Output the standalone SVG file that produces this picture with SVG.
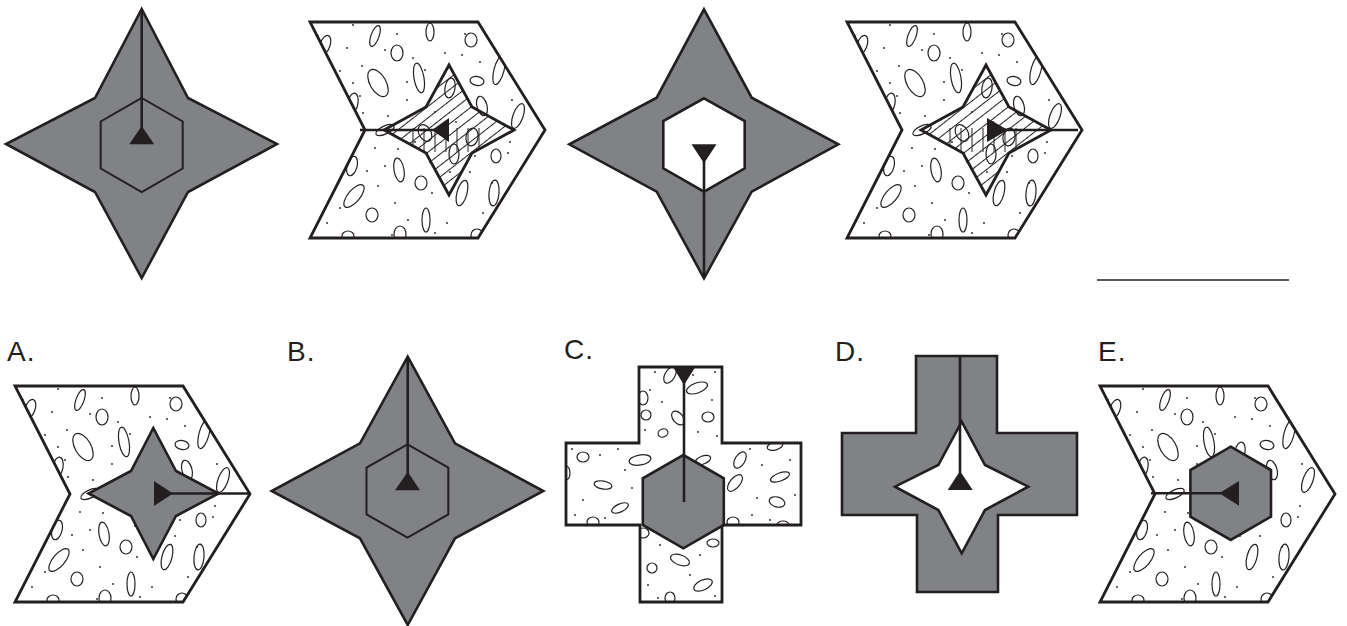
<svg xmlns="http://www.w3.org/2000/svg" xmlns:xlink="http://www.w3.org/1999/xlink" width="1347" height="626" viewBox="0 0 1347 626">
<style>
.o{fill:none;stroke:#231f20;stroke-width:2.8;stroke-linejoin:miter}
.g{fill:#808285;stroke:#231f20;stroke-width:2.6}
.w{fill:#fff;stroke:#231f20;stroke-width:2.6}
.thin{fill:none;stroke:#231f20;stroke-width:2}
.stem{stroke:#231f20;stroke-width:2.6;fill:none}
.tri{fill:#231f20;stroke:none}
.tex ellipse{fill:none;stroke:#231f20;stroke-width:1.2}
.tex circle{fill:#231f20;stroke:none}
.lbl{font-family:"Liberation Sans",Arial,sans-serif;font-size:28px;fill:#231f20;letter-spacing:1px}
</style>
<defs>
<clipPath id="chevClip"><polygon points="0,0 168,0 235,108 168,216 0,216 55,108"/></clipPath>
<clipPath id="starClip"><polygon points="0,-65 23,-23 65,0 23,23 0,65 -23,23 -65,0 -23,-23"/></clipPath>
<clipPath id="crossClip"><polygon points="639,367 722,367 722,443 801,443 801,525 722,525 722,602 640,602 640,525 566,525 566,443 639,443"/></clipPath>
<pattern id="diag" patternUnits="userSpaceOnUse" width="9" height="9" patternTransform="rotate(-38)">
<line x1="0" y1="4.5" x2="9" y2="4.5" stroke="#231f20" stroke-width="1"/>
</pattern>
<pattern id="vert" patternUnits="userSpaceOnUse" width="11" height="10" x="3">
<line x1="5" y1="0" x2="5" y2="10" stroke="#231f20" stroke-width="1"/>
</pattern>
<g id="chevTex" class="tex">
<ellipse cx="65" cy="14" rx="4" ry="11" transform="rotate(20 65 14)"/>
<ellipse cx="120" cy="10" rx="4" ry="9"/>
<ellipse cx="161" cy="18" rx="6" ry="7"/>
<ellipse cx="15" cy="23" rx="5" ry="10" transform="rotate(20 15 23)"/>
<ellipse cx="87" cy="31" rx="6" ry="8"/>
<ellipse cx="68" cy="61" rx="8" ry="15" transform="rotate(-30 68 61)"/>
<ellipse cx="109" cy="56" rx="5" ry="15" transform="rotate(-10 109 56)"/>
<ellipse cx="167" cy="59" rx="7" ry="4.5" transform="rotate(10 167 59)"/>
<ellipse cx="189" cy="48" rx="5" ry="15" transform="rotate(15 189 48)"/>
<ellipse cx="43" cy="81" rx="5" ry="10" transform="rotate(10 43 81)"/>
<ellipse cx="172" cy="84" rx="5" ry="10" transform="rotate(-15 172 84)"/>
<ellipse cx="208" cy="94" rx="5" ry="13" transform="rotate(20 208 94)"/>
<ellipse cx="75" cy="108" rx="10" ry="4" transform="rotate(-25 75 108)"/>
<ellipse cx="186" cy="134" rx="5" ry="7"/>
<ellipse cx="42" cy="144" rx="5" ry="10" transform="rotate(15 42 144)"/>
<ellipse cx="89" cy="148" rx="5" ry="12" transform="rotate(-10 89 148)"/>
<ellipse cx="111" cy="161" rx="6" ry="7"/>
<ellipse cx="152" cy="171" rx="5" ry="13" transform="rotate(15 152 171)"/>
<ellipse cx="44" cy="174" rx="6" ry="14" transform="rotate(40 44 174)"/>
<ellipse cx="184" cy="171" rx="5" ry="13" transform="rotate(5 184 171)"/>
<ellipse cx="62" cy="193" rx="6" ry="7"/>
<ellipse cx="116" cy="198" rx="4" ry="12"/>
<ellipse cx="90" cy="212" rx="6" ry="8"/>
<ellipse cx="38" cy="214" rx="6" ry="5"/>
<ellipse cx="167" cy="213" rx="6" ry="6"/>
<ellipse cx="115" cy="111" rx="6" ry="9" transform="rotate(-30 115 111)"/>
<ellipse cx="162" cy="115" rx="6" ry="9" transform="rotate(10 162 115)"/>
<ellipse cx="144" cy="132" rx="5" ry="10"/>
<ellipse cx="140" cy="66" rx="5" ry="10" transform="rotate(10 140 66)"/>
<circle cx="43" cy="3" r="0.9"/><circle cx="87" cy="12" r="0.9"/><circle cx="155" cy="12" r="0.9"/>
<circle cx="8" cy="14" r="0.9"/><circle cx="37" cy="26" r="0.9"/><circle cx="75" cy="28" r="0.9"/>
<circle cx="135" cy="31" r="0.9"/><circle cx="152" cy="33" r="0.9"/><circle cx="52" cy="44" r="0.9"/>
<circle cx="103" cy="36" r="0.9"/><circle cx="170" cy="40" r="0.9"/><circle cx="30" cy="49" r="0.9"/>
<circle cx="115" cy="48" r="0.9"/><circle cx="43" cy="61" r="0.9"/><circle cx="97" cy="60" r="0.9"/>
<circle cx="50" cy="74" r="0.9"/><circle cx="97" cy="78" r="0.9"/><circle cx="202" cy="78" r="0.9"/>
<circle cx="53" cy="91" r="0.9"/><circle cx="78" cy="94" r="0.9"/><circle cx="65" cy="126" r="0.9"/>
<circle cx="88" cy="127" r="0.9"/><circle cx="165" cy="134" r="0.9"/><circle cx="198" cy="131" r="0.9"/>
<circle cx="75" cy="144" r="0.9"/><circle cx="57" cy="149" r="0.9"/><circle cx="182" cy="161" r="0.9"/>
<circle cx="68" cy="164" r="0.9"/><circle cx="85" cy="181" r="0.9"/><circle cx="122" cy="171" r="0.9"/>
<circle cx="30" cy="186" r="0.9"/><circle cx="173" cy="191" r="0.9"/><circle cx="98" cy="198" r="0.9"/>
<circle cx="137" cy="201" r="0.9"/><circle cx="17" cy="201" r="0.9"/><circle cx="82" cy="213" r="0.9"/>
<circle cx="125" cy="211" r="0.9"/><circle cx="125" cy="90" r="0.9"/><circle cx="146" cy="100" r="0.9"/>
<circle cx="200" cy="120" r="0.9"/><circle cx="120" cy="140" r="0.9"/><circle cx="140" cy="150" r="0.9"/>
<circle cx="160" cy="150" r="0.9"/><circle cx="105" cy="120" r="0.9"/>
</g>
<g id="hatchStar">
<polygon points="0,-65 23,-23 65,0 23,23 0,65 -23,23 -65,0 -23,-23" fill="url(#diag)"/>
<g clip-path="url(#starClip)"><rect x="-45" y="-2" width="80" height="24" fill="url(#vert)"/></g>
<polygon class="o" points="0,-65 23,-23 65,0 23,23 0,65 -23,23 -65,0 -23,-23"/>
</g>
</defs>

<g id="q1">
<polygon class="g" points="141.7,9 188,98 277,144 188,192 141.7,278 95,192 6,144 95,98"/>
<polygon class="thin" points="141.7,98 182.7,121.5 182.7,168.5 141.7,192 100.7,168.5 100.7,121.5"/>
<line class="stem" x1="141.7" y1="9" x2="141.7" y2="128"/>
<polygon class="tri" points="141.7,126 154.2,144.3 129.2,144.3"/>
</g>

<g id="q2">
<g transform="translate(310,22)">
<g clip-path="url(#chevClip)"><use xlink:href="#chevTex"/></g>
<polygon class="o" points="0,0 168,0 235,108 168,216 0,216 55,108"/>
</g>
<use xlink:href="#hatchStar" transform="translate(449,130)"/>
<line class="stem" x1="360" y1="130" x2="434" y2="130"/>
<polygon class="tri" points="432,130 449,118 449,142"/>
</g>

<g id="q3">
<polygon class="g" points="704,9.3 751.7,97.7 838.3,144.3 751.7,191.7 704,278.3 656.7,191.7 569.3,144.3 656.7,97.7"/>
<polygon class="w" points="704,98.3 744.7,121 744.7,168.3 704,191.7 663.3,168.3 663.3,121"/>
<line class="stem" x1="704" y1="161" x2="704" y2="278"/>
<polygon class="tri" points="691.5,144.3 716.5,144.3 704,163.3"/>
</g>

<g id="q4">
<g transform="translate(847,22)">
<g clip-path="url(#chevClip)"><use xlink:href="#chevTex"/></g>
<polygon class="o" points="0,0 168,0 235,108 168,216 0,216 55,108"/>
</g>
<use xlink:href="#hatchStar" transform="translate(986,130)"/>
<line class="stem" x1="1006" y1="130" x2="1078" y2="130"/>
<polygon class="tri" points="987,118 987,142 1008,130"/>
</g>

<line id="answer" x1="1097" y1="280" x2="1289" y2="280" stroke="#231f20" stroke-width="1.3"/>

<g id="optA">
<text class="lbl" x="7" y="361">A.</text>
<g transform="translate(15,386)">
<g clip-path="url(#chevClip)"><use xlink:href="#chevTex"/></g>
<polygon class="o" points="0,0 168,0 235,108 168,216 0,216 55,108"/>
</g>
<polygon class="g" points="153.3,428 176,471 218.5,493.5 176,516 153.3,559 131,516 88.5,493.5 131,471"/>
<line class="stem" x1="171" y1="493.5" x2="250" y2="493.5"/>
<polygon class="tri" points="154,481 154,506 173,493.5"/>
</g>

<g id="optB">
<text class="lbl" x="287" y="361">B.</text>
<polygon class="g" points="407.7,356.7 455,443.3 543.3,491 455,538.3 407.7,625 360,538.3 271.7,491 360,443.3"/>
<polygon class="thin" points="407.5,444.3 448.3,467.7 448.3,514.3 407.5,537.7 366.5,514.3 366.5,467.7"/>
<line class="stem" x1="407.7" y1="357" x2="407.7" y2="474"/>
<polygon class="tri" points="407.7,471.7 420,490.3 395,490.3"/>
</g>

<g id="optC">
<text class="lbl" x="564" y="359">C.</text>
<polygon fill="#fff" points="639,367 722,367 722,443 801,443 801,525 722,525 722,602 640,602 640,525 566,525 566,443 639,443"/>
<g class="tex" clip-path="url(#crossClip)">
<ellipse cx="670" cy="375" rx="5" ry="9" transform="rotate(30 670 375)"/>
<ellipse cx="697" cy="388" rx="11" ry="5" transform="rotate(-20 697 388)"/>
<ellipse cx="643" cy="398" rx="5" ry="7"/>
<ellipse cx="646" cy="415" rx="5" ry="5"/>
<ellipse cx="678" cy="418" rx="5" ry="8" transform="rotate(-40 678 418)"/>
<ellipse cx="708" cy="417" rx="6" ry="5"/>
<ellipse cx="663" cy="433" rx="5" ry="4" transform="rotate(-20 663 433)"/>
<ellipse cx="640" cy="460" rx="11" ry="5" transform="rotate(-10 640 460)"/>
<ellipse cx="703" cy="460" rx="8" ry="4" transform="rotate(-20 703 460)"/>
<ellipse cx="775" cy="446" rx="8" ry="4" transform="rotate(-15 775 446)"/>
<ellipse cx="583" cy="457" rx="6" ry="5"/>
<ellipse cx="740" cy="460" rx="5" ry="9" transform="rotate(30 740 460)"/>
<ellipse cx="780" cy="477" rx="10" ry="4" transform="rotate(-20 780 477)"/>
<ellipse cx="735" cy="483" rx="5" ry="10" transform="rotate(40 735 483)"/>
<ellipse cx="603" cy="485" rx="9" ry="4" transform="rotate(10 603 485)"/>
<ellipse cx="566" cy="473" rx="4" ry="7"/>
<ellipse cx="620" cy="508" rx="9" ry="4" transform="rotate(-25 620 508)"/>
<ellipse cx="593" cy="522" rx="6" ry="5"/>
<ellipse cx="777" cy="502" rx="8" ry="5" transform="rotate(15 777 502)"/>
<ellipse cx="733" cy="522" rx="6" ry="5"/>
<ellipse cx="783" cy="525" rx="6" ry="4"/>
<ellipse cx="713" cy="543" rx="6" ry="4"/>
<ellipse cx="680" cy="560" rx="10" ry="5" transform="rotate(20 680 560)"/>
<ellipse cx="652" cy="568" rx="5" ry="5"/>
<ellipse cx="703" cy="585" rx="10" ry="5" transform="rotate(-25 703 585)"/>
<ellipse cx="670" cy="598" rx="5" ry="6"/>
<ellipse cx="643" cy="533" rx="6" ry="5"/>
<circle cx="655" cy="372" r="0.9"/><circle cx="693" cy="375" r="0.9"/><circle cx="715" cy="372" r="0.9"/>
<circle cx="650" cy="390" r="0.9"/><circle cx="662" cy="402" r="0.9"/><circle cx="712" cy="400" r="0.9"/>
<circle cx="645" cy="430" r="0.9"/><circle cx="698" cy="432" r="0.9"/><circle cx="717" cy="436" r="0.9"/>
<circle cx="572" cy="449" r="0.9"/><circle cx="600" cy="455" r="0.9"/><circle cx="618" cy="449" r="0.9"/>
<circle cx="625" cy="470" r="0.9"/><circle cx="583" cy="500" r="0.9"/><circle cx="575" cy="515" r="0.9"/>
<circle cx="605" cy="518" r="0.9"/><circle cx="632" cy="488" r="0.9"/><circle cx="750" cy="449" r="0.9"/>
<circle cx="762" cy="465" r="0.9"/><circle cx="790" cy="460" r="0.9"/><circle cx="757" cy="498" r="0.9"/>
<circle cx="795" cy="495" r="0.9"/><circle cx="752" cy="515" r="0.9"/><circle cx="770" cy="520" r="0.9"/>
<circle cx="660" cy="545" r="0.9"/><circle cx="700" cy="555" r="0.9"/><circle cx="648" cy="585" r="0.9"/>
<circle cx="690" cy="575" r="0.9"/><circle cx="715" cy="596" r="0.9"/><circle cx="658" cy="598" r="0.9"/>
</g>
<polygon class="o" points="639,367 722,367 722,443 801,443 801,525 722,525 722,602 640,602 640,525 566,525 566,443 639,443"/>
<polygon class="g" points="683.3,455 723.8,478.3 723.8,525 683.3,548.3 642.8,525 642.8,478.3"/>
<line class="stem" x1="684" y1="380" x2="684" y2="502"/>
<polygon class="tri" points="673.3,367.5 695,367.5 684,385"/>
</g>

<g id="optD">
<text class="lbl" x="835" y="361">D.</text>
<polygon class="g" points="916,356 997,356 997,433 1077,433 1077,515 998,515 998,592 917,592 917,515 842,515 842,433 916,433"/>
<polygon class="w" points="961.7,421.7 985,465 1028.3,486.7 985,510 961.7,553.3 938.3,510 895,486.7 938.3,465"/>
<line class="stem" x1="960" y1="356" x2="960" y2="473"/>
<polygon class="tri" points="960,471 972.7,490 947.7,490"/>
</g>

<g id="optE">
<text class="lbl" x="1098" y="361">E.</text>
<g transform="translate(1100,386)">
<g clip-path="url(#chevClip)"><use xlink:href="#chevTex"/></g>
<polygon class="o" points="0,0 168,0 235,108 168,216 0,216 55,108"/>
</g>
<polygon class="g" points="1230.7,446.7 1271,470 1271,516.7 1230.7,540 1190.4,516.7 1190.4,470"/>
<line class="stem" x1="1151" y1="493.3" x2="1221" y2="493.3"/>
<polygon class="tri" points="1239,481 1239,505.7 1219.3,493.3"/>
</g>
</svg>
